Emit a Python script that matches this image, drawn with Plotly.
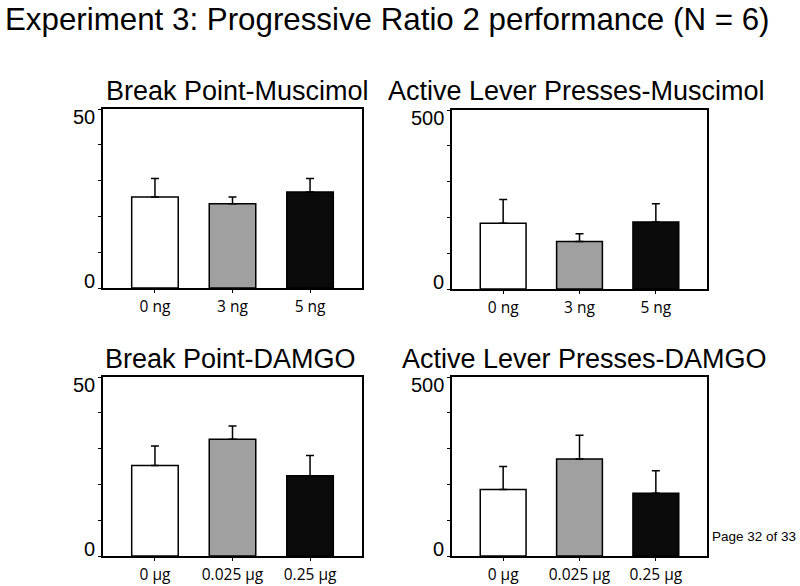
import plotly.graph_objects as go

# ---- data ----
muscimol_doses = ["0 ng", "3 ng", "5 ng"]
damgo_doses = ["0 µg", "0.025 µg", "0.25 µg"]

bp_muscimol_mean = [25.4, 23.5, 26.8]
bp_muscimol_sem = [5.2, 1.9, 3.8]

alp_muscimol_mean = [184, 133, 187]
alp_muscimol_sem = [66, 21, 51]

bp_damgo_mean = [25.3, 32.6, 22.4]
bp_damgo_sem = [5.4, 3.7, 5.7]

alp_damgo_mean = [186, 271, 175]
alp_damgo_sem = [64, 66, 63]

bar_colors = ["#ffffff", "#a0a0a0", "#0a0a0a"]

panel_titles = ["Break Point-Muscimol", "Active Lever Presses-Muscimol",
                "Break Point-DAMGO", "Active Lever Presses-DAMGO"]

bp_ticks = [0, 10, 20, 30, 40, 50]
bp_labels = {0: "0", 50: "50"}
alp_ticks = [0, 100, 200, 300, 400, 500]
alp_labels = {0: "0", 500: "500"}

FONT = "Liberation Sans, Arial, sans-serif"
TICKFONT = "Open Sans, sans-serif"

panels = [
    (muscimol_doses, bp_muscimol_mean, bp_muscimol_sem, "x", "y"),
    (muscimol_doses, alp_muscimol_mean, alp_muscimol_sem, "x2", "y2"),
    (damgo_doses, bp_damgo_mean, bp_damgo_sem, "x3", "y3"),
    (damgo_doses, alp_damgo_mean, alp_damgo_sem, "x4", "y4"),
]

fig = go.Figure()
for cats, means, sems, xa, ya in panels:
    fig.add_trace(go.Bar(
        x=cats, y=means, xaxis=xa, yaxis=ya, width=0.6,
        marker=dict(color=bar_colors, line=dict(color="black", width=1.5)),
        error_y=dict(type="data", array=sems, arrayminus=[0] * len(sems),
                     symmetric=False, color="black", thickness=1.5, width=4),
        showlegend=False, hoverinfo="skip",
    ))

W, H = 800, 586
def px_x(a, b):
    return [a / W, b / W]
def px_y(top, bottom):
    return [1 - bottom / H, 1 - top / H]

xdoms = [px_x(103, 362), px_x(452, 707), px_x(103, 362), px_x(452, 707)]
ydoms = [px_y(109, 288), px_y(110, 289), px_y(377, 556), px_y(377, 556)]

layout = dict(
    width=W, height=H,
    margin=dict(l=0, r=0, t=0, b=0, pad=0),
    paper_bgcolor="white", plot_bgcolor="white",
    font=dict(family=FONT, color="black"),
)

annotations = []
for i in range(4):
    sfx = "" if i == 0 else str(i + 1)
    is_bp = i in (0, 2)
    layout["xaxis" + sfx] = dict(
        domain=xdoms[i], anchor="y" + sfx, type="category",
        range=[-0.67, 2.67], showline=True, linecolor="black", linewidth=2,
        mirror=True, ticks="outside", ticklen=3, tickwidth=1, tickcolor="black",
        tickfont=dict(size=15.5, family=TICKFONT), showgrid=False, zeroline=False,
        fixedrange=True, automargin=False,
    )
    layout["yaxis" + sfx] = dict(
        domain=ydoms[i], anchor="x" + sfx,
        range=[0, 50] if is_bp else [0, 500],
        tickvals=bp_ticks if is_bp else alp_ticks,
        showticklabels=False,
        showline=True, linecolor="black", linewidth=2, mirror=True,
        ticks="outside", ticklen=3, tickwidth=1, tickcolor="black",
        showgrid=False, zeroline=False,
        fixedrange=True, automargin=False,
    )
    # y tick labels: top label hangs below its tick, bottom label sits above its tick
    labels = bp_labels if is_bp else alp_labels
    for val, txt in labels.items():
        annotations.append(dict(
            text=txt, xref=f"x{sfx} domain", x=0, yref="y" + sfx, y=val,
            xanchor="right", yanchor="bottom" if val == 0 else "top",
            xshift=-6, yshift=-6 if val == 0 else 5, showarrow=False,
            font=dict(size=20, family=FONT)))

annotations += [
    dict(text="Experiment 3: Progressive Ratio 2 performance (N = 6)",
         x=3 / W, y=1 - 20 / H, xref="paper", yref="paper",
         xanchor="left", yanchor="middle", showarrow=False,
         font=dict(size=31.3, family=FONT)),
    dict(text="Page 32 of 33", x=798 / W, y=1 - 536 / H, xref="paper", yref="paper",
         xanchor="right", yanchor="middle", showarrow=False,
         font=dict(size=13.5, family=FONT)),
]
title_pos = [(104, 91), (386, 91), (103, 359), (399.5, 359)]
for t, (tx, ty) in zip(panel_titles, title_pos):
    annotations.append(dict(text=t, x=tx / W, y=1 - ty / H, xref="paper", yref="paper",
                            xanchor="left", yanchor="middle", showarrow=False,
                            font=dict(size=27, family=FONT)))
layout["annotations"] = annotations

fig.update_layout(**layout)
fig.write_html("out.html", config={"displayModeBar": False},
               post_script="document.body.style.margin='0';document.body.style.padding='0';")
